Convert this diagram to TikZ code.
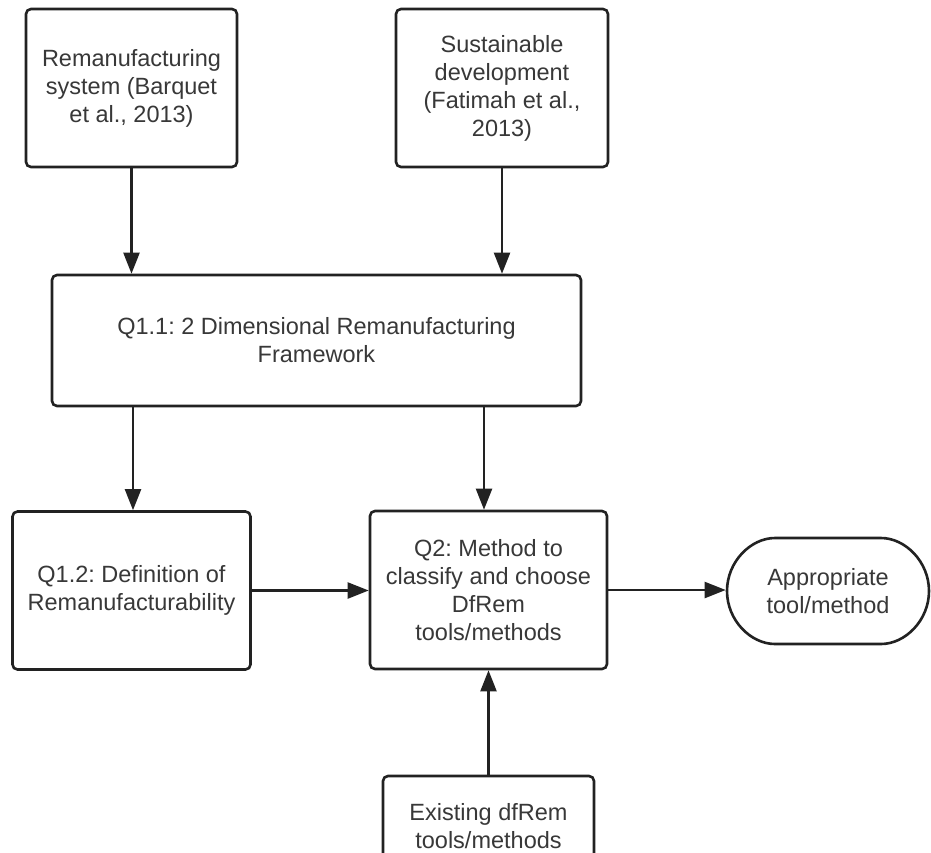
\documentclass[tikz,border=0pt]{standalone}
\usepackage{fontspec}
\setmainfont{Liberation Sans}
\usetikzlibrary{arrows.meta,shapes.misc}
\definecolor{ln}{HTML}{222222}
\definecolor{tx}{HTML}{383838}
\frenchspacing
\tikzset{
  box/.style={draw=ln, line width=2.6pt, rounded corners=5pt, fill=white, align=center,
    text=tx, font=\fontsize{23.5}{28}\selectfont\frenchspacing, inner sep=0pt},
  term/.style={box, rounded rectangle},
  conn/.style={draw=ln, line width=2.2pt, -{Triangle[length=21pt,width=16pt]}},
}
\begin{document}
\begin{tikzpicture}[x=1pt,y=-1pt]
\clip (0,0) rectangle (931,852);
\fill[white] (0,0) rectangle (931,852);
\node[box, minimum width=211pt, minimum height=158pt] (A) at (131.5,88) {Remanufacturing\\system (Barquet\\et al., 2013)};
\node[box, minimum width=212pt, minimum height=158pt] (B) at (502,88) {Sustainable\\development\\(Fatimah et al.,\\2013)};
\node[box, minimum width=529pt, minimum height=131pt] (C) at (316.5,340.5) {Q1.1: 2 Dimensional Remanufacturing\\Framework};
\node[box, minimum width=238pt, minimum height=158pt] (D) at (131.5,590.5) {Q1.2: Definition of\\Remanufacturability};
\node[box, minimum width=237pt, minimum height=158pt] (E) at (488.5,590) {Q2: Method to\\classify and choose\\DfRem\\tools/methods};
\node[term, minimum width=202pt, minimum height=106pt] (F) at (828,591) {Appropriate\\tool/method};
\node[box, minimum width=211pt, minimum height=100pt] (G) at (488.5,826) {Existing dfRem\\tools/methods};
\draw[conn] (A.south) -- (A.south |- C.north);
\draw[conn] (B.south) -- (B.south |- C.north);
\draw[conn] ([xshift=1.5pt]D.north |- C.south) -- ([xshift=1.5pt]D.north);
\draw[conn] ([xshift=-4.5pt]E.north |- C.south) -- ([xshift=-4.5pt]E.north);
\draw[conn] (D.east) -- (D.east -| E.west);
\draw[conn] (E.east) -- (E.east -| F.west);
\draw[conn] (G.north) -- (E.south);
\end{tikzpicture}
\end{document}
